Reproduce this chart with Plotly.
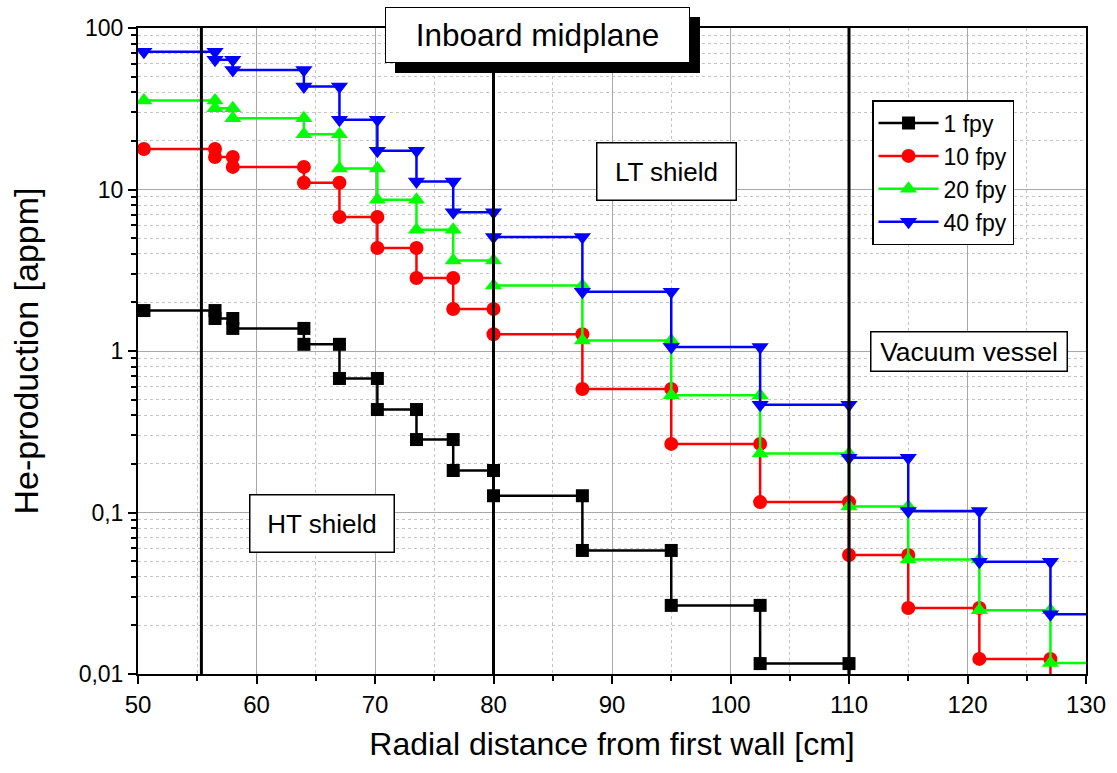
import plotly.graph_objects as go

# Step boundaries along radial distance [cm]
x_bounds = [50.5, 56.5, 58, 64, 67, 70.2, 73.5, 76.6, 80, 87.5, 95, 102.5, 110, 115, 121, 127, 133]

# He-production [appm] per step
he_1fpy = [1.78, 1.59, 1.38, 1.10, 0.676, 0.434, 0.283, 0.182, 0.127, 0.0582, 0.0266, 0.0116, 0.0055]
he_10fpy = [17.8, 15.9, 13.8, 11.0, 6.76, 4.34, 2.83, 1.82, 1.27, 0.582, 0.266, 0.116, 0.0546, 0.0256, 0.0124, 0.0058]
he_20fpy = [35.6, 31.8, 27.6, 22.0, 13.5, 8.65, 5.63, 3.64, 2.54, 1.16, 0.532, 0.232, 0.109, 0.0512, 0.0248, 0.0117]
he_40fpy = [71.2, 63.5, 55.0, 43.5, 27.0, 17.4, 11.2, 7.24, 5.08, 2.33, 1.06, 0.464, 0.218, 0.102, 0.0496, 0.0234]

series_names = ["1 fpy", "10 fpy", "20 fpy", "40 fpy"]
series_colors = ["#000000", "#ff0000", "#00ff00", "#0000ff"]
series_symbols = ["square", "circle", "triangle-up", "triangle-down"]
series_sizes = [13, 14, 15, 15]

# Region separators [cm]
sep_x = [55.35, 80, 110]

# Axis ticks
y_tickvals = [0.01, 0.1, 1, 10, 100]
y_ticktext = ["0,01", "0,1", "1", "10", "100"]
y_minor_vals = [k * 10 ** e for e in range(-2, 2) for k in range(2, 10)]


def step_points(bounds, vals):
    xs, ys = [], []
    for i, v in enumerate(vals):
        xs += [bounds[i], bounds[i + 1]]
        ys += [v, v]
    return xs, ys


fig = go.Figure()
for name, vals, col, sym, sz in zip(series_names, [he_1fpy, he_10fpy, he_20fpy, he_40fpy],
                                    series_colors, series_symbols, series_sizes):
    xs, ys = step_points(x_bounds, vals)
    fig.add_trace(go.Scatter(
        x=xs, y=ys, name=name, mode="lines+markers",
        line=dict(color=col, width=2.5),
        marker=dict(symbol=sym, size=sz, color=col, line=dict(width=0)),
        cliponaxis=True,
    ))

for sx in sep_x:
    fig.add_shape(type="line", xref="x", yref="paper", x0=sx, x1=sx, y0=0, y1=1,
                  line=dict(color="black", width=3), layer="above")

# Shadow of the title box
fig.add_shape(type="rect", xref="paper", yref="paper", x0=0.2711, x1=0.5928, y0=0.9303, y1=1.017,
              fillcolor="black", line=dict(width=0), layer="above")

font_family = "Liberation Sans, Arial, sans-serif"

fig.update_layout(
    width=1117, height=773,
    margin=dict(l=138, r=31, t=28, b=99),
    plot_bgcolor="white", paper_bgcolor="white",
    font=dict(family=font_family, color="black"),
    showlegend=True,
    legend=dict(x=0.7743, y=0.8885, xanchor="left", yanchor="top",
                bgcolor="white", bordercolor="black", borderwidth=1.5,
                font=dict(size=23, family=font_family), itemwidth=60, tracegroupgap=0),
    xaxis=dict(
        range=[50, 130], tick0=50, dtick=10, ticks="outside", ticklen=8, tickwidth=2,
        tickcolor="black", linecolor="black", linewidth=2, mirror=True,
        showgrid=True, gridcolor="#a8a8a8", gridwidth=1, zeroline=False,
        tickfont=dict(size=24),
        minor=dict(dtick=5, tick0=50, ticks="outside", ticklen=5, tickwidth=2, tickcolor="black",
                   showgrid=True, gridcolor="#c4c4c4", griddash="dot", gridwidth=1),
        title=dict(text="Radial distance from first wall [cm]", font=dict(size=32), standoff=16),
    ),
    yaxis=dict(
        type="log", range=[-2, 2], tickmode="array", tickvals=y_tickvals, ticktext=y_ticktext,
        ticks="outside", ticklen=8, tickwidth=2, tickcolor="black",
        linecolor="black", linewidth=2, mirror=True,
        showgrid=True, gridcolor="#a8a8a8", gridwidth=1, zeroline=False,
        tickfont=dict(size=23),
        minor=dict(tickmode="array", tickvals=y_minor_vals, ticks="outside", ticklen=5, tickwidth=2,
                   tickcolor="black", showgrid=True, gridcolor="#c4c4c4", griddash="dot", gridwidth=1),
        title=dict(text="He-production [appm]", font=dict(size=34), standoff=30),
    ),
)

# Text boxes
box_common = dict(xref="paper", yref="paper", showarrow=False, xanchor="center", yanchor="middle",
                  bgcolor="white", bordercolor="black", borderpad=1)
fig.add_annotation(text="Inboard midplane", x=0.4214, y=0.989, font=dict(size=31.5),
                   borderwidth=1, width=301, height=52, **box_common)
fig.add_annotation(text="LT shield", x=0.5577, y=0.7774, font=dict(size=26),
                   borderwidth=1.5, width=136, height=54, **box_common)
fig.add_annotation(text="Vacuum vessel", x=0.8771, y=0.4989, font=dict(size=26.5),
                   borderwidth=1.5, width=193, height=36, **box_common)
fig.add_annotation(text="HT shield", x=0.1946, y=0.2337, font=dict(size=26),
                   borderwidth=1.5, width=141, height=54, **box_common)

fig.write_html("out.html")
